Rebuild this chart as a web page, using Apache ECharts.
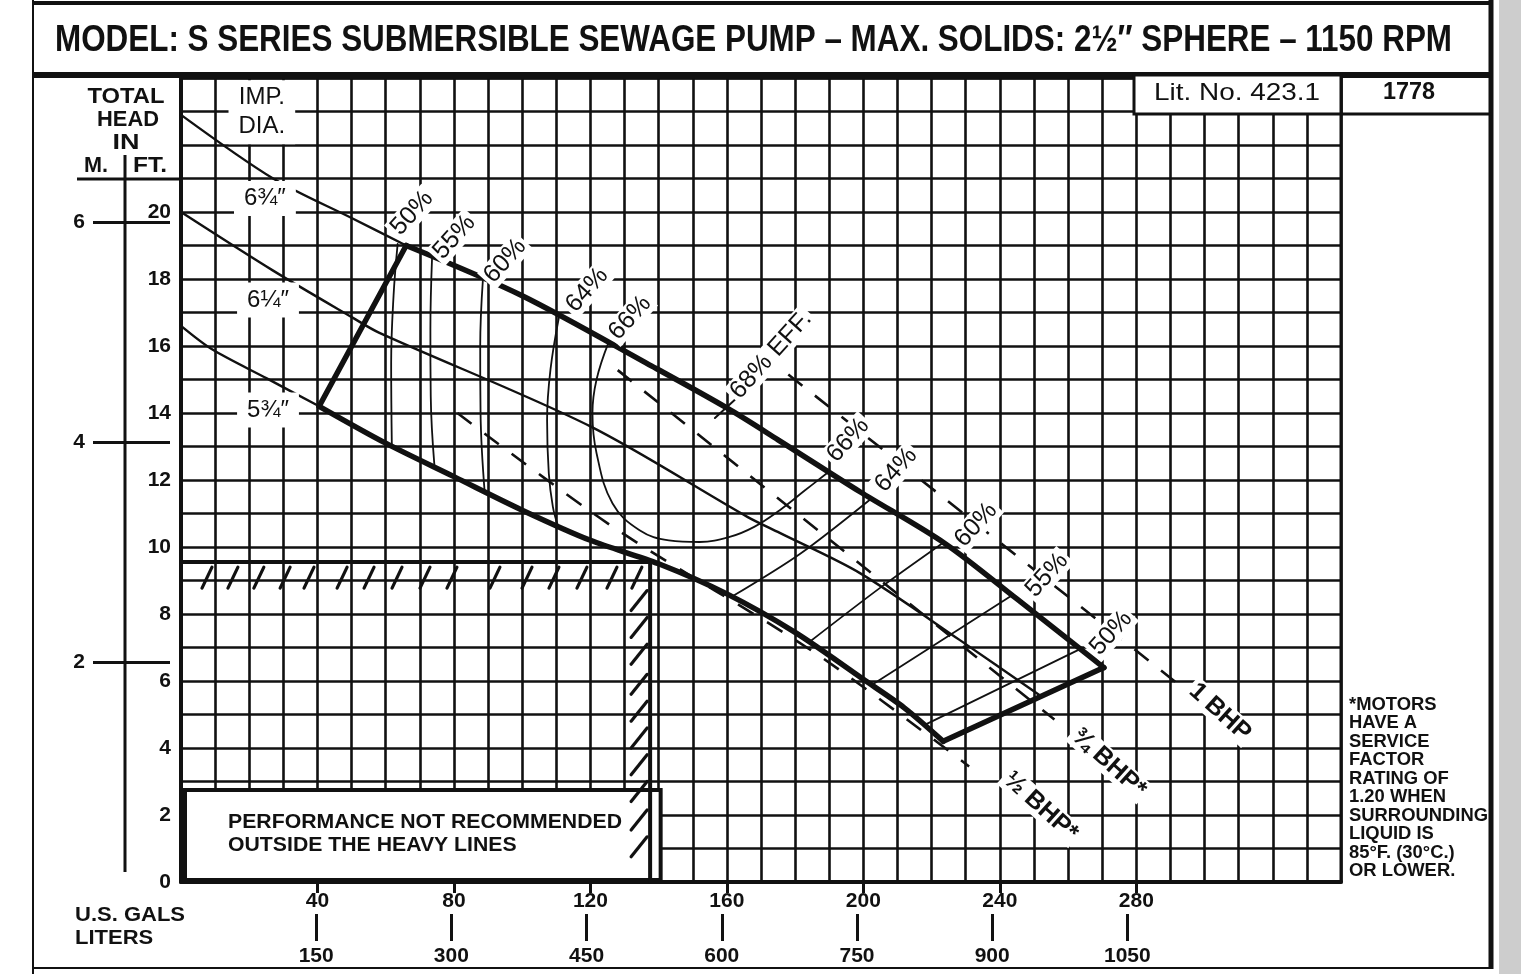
<!DOCTYPE html>
<html><head><meta charset="utf-8">
<script src="https://cdn.jsdelivr.net/npm/echarts@6/dist/echarts.min.js"></script>
<style>html,body{margin:0;padding:0;background:#fff}#c{width:1521px;height:974px}</style>
</head><body><div id="c"></div><script>
// ---------- data (US GPM, feet) ----------
const xTicksGPM = [40, 80, 120, 160, 200, 240, 280];
const xTicksLiters = [150, 300, 450, 600, 750, 900, 1050];
const yTicksFt = [0, 2, 4, 6, 8, 10, 12, 14, 16, 18, 20];
const yTicksM = [2, 4, 6];

const imp675 = [[0,22.9],[27,21.0],[50,19.82],[66,19.0],[100,17.5],[138,15.4],[160,14.15],[175,13.2],[199,11.65],[224,10.1],[245,8.45],[270.5,6.4]];
const imp625 = [[0,20.0],[27,18.25],[50.4,16.84],[58,16.4],[120,13.6],[166,10.9],[175.5,10.42],[199,9.22],[228.3,7.22],[252,5.55]];
const imp575 = [[0,16.6],[9.1,15.9],[25,15.04],[40.5,14.2],[60,13.1],[80,12.1],[100,11.1],[120,10.2],[140,9.5],[160,8.6],[180,7.45],[200,6.05],[212,5.2],[223.4,4.2]];
const heavyFrom675 = 66;
const heavyFrom575 = 40.5;
const leftEnd = [[40.5,14.2],[66,19.0]];
const rightEnd = [[223.4,4.2],[270.5,6.4]];

const eff50L = [[63.5,19.05],[62.3,17.5],[61.6,15.5],[61.8,13.0]];
const eff55L = [[73.6,18.67],[73.1,16.5],[73.2,14.5],[74.3,12.4]];
const eff60L = [[88.5,18.0],[87.7,16.0],[87.8,14.0],[89.0,11.65]];
const eff64L = [[110.8,16.87],[108.3,15.3],[107.3,13.8],[107.8,12.2],[109,11.2],[110.5,10.63]];
const eff66 = [[125.3,16.1],[121.8,15.0],[120.6,14.0],[121.8,12.8],[126.5,11.3],[134.4,10.5],[143,10.2],[152,10.15],[160.8,10.3],[168,10.6],[175.5,11.1],[183,11.7],[189.3,12.2]];
const eff64R = [[161.5,8.52],[181.5,9.8],[202,11.42]];
const eff60R = [[184,7.15],[204.9,8.78],[223.3,10.12]];
const eff55R = [[202.8,5.9],[243.5,8.55]];
const eff50R = [[218.6,4.72],[263.5,6.95]];
const eff68Mark = [[156.5,13.85],[164.5,14.6]];

const bhp1 = [[178,15.15],[293,5.85]];
const bhp34 = [[128,15.28],[256,4.85]];
const bhp12 = [[81,14.0],[126.6,10.6],[186.4,6.8],[231,3.45]];

const hatchHead = 9.55;
const hatchFlow = 137.5;
const hatchTicksX = [8.5,16.1,23.7,31.4,38.4,48.1,56,64.2,72.4,80.3,92.9,102.3,110.2,118.4,127.2,134.5];
const hatchTicksY = [8.4,7.6,6.8,5.9,5.1,4.3,3.5,2.7,1.85,1.05];
const noteBox = [[0,0],[140,2.75]];

const effLabelText = ['50%','55%','60%','64%','66%','68% EFF.','66%','64%','60%','55%','50%'];
const effLabelPos = [[67.7,19.97],[80.1,19.25],[95.0,18.54],[119.0,17.67],[131.6,16.84],[172.9,15.73],[195.5,13.19],[209.6,12.3],[233,10.66],[253.8,9.16],[272.6,7.43]];
const bhpLabelText = ['1 BHP','¾ BHP*','½ BHP*'];
const bhpLabelPos = [[304.5,5.07],[272,3.55],[252,2.25]];
const impLabelText = ['IMP.\nDIA.','6¾″','6¼″','5¾″'];
const impLabelPos = [[23.7,22.98],[24.6,20.4],[25.5,17.37],[25.5,14.09]];

const titleText = 'MODEL: S SERIES SUBMERSIBLE SEWAGE PUMP – MAX. SOLIDS: 2½″ SPHERE – 1150 RPM';
const noteLines = ['*MOTORS','HAVE A','SERVICE','FACTOR','RATING OF','1.20 WHEN','SURROUNDING','LIQUID IS','85°F. (30°C.)','OR LOWER.'];
const LPG = 3.785411784, FT2M = 0.3048;

// ---------- drawing ----------
const FONT = '"Liberation Sans", Arial, Helvetica, "DejaVu Sans", sans-serif';
const BLACK = '#111';
const chart = echarts.init(document.getElementById('c'), null, {renderer:'canvas'});

function line(data, width, extra) {
  return Object.assign({type:'line', data, xAxisIndex:0, yAxisIndex:0, symbol:'none', silent:true,
    animation:false, lineStyle:{color:BLACK, width, cap:'round', join:'round'}, z:3}, extra || {});
}
const lo = (arr, x0) => arr.filter(p => p[0] <= x0);
const hi = (arr, x0) => arr.filter(p => p[0] >= x0);
const lbl = { fontFamily: FONT, color: BLACK };

const mctx = document.createElement('canvas').getContext('2d');
function txt(text, x, y, size, weight, width, align, sxFixed) {
  const font = weight + ' ' + size + 'px ' + FONT;
  mctx.font = font;
  const sx = sxFixed || (width ? width / mctx.measureText(text).width : 1);
  return {type:'text', x, y, scaleX:sx, z:100, silent:true,
    style:{text, font, fill:BLACK, align: align || 'left', verticalAlign:'middle'}};
}
function scaleFor(text, size, weight, width) {
  mctx.font = weight + ' ' + size + 'px ' + FONT;
  return width / mctx.measureText(text).width;
}
function gl(x1, y1, x2, y2, w) {
  return {type:'line', z:90, silent:true, shape:{x1,y1,x2,y2}, style:{stroke:BLACK, lineWidth:w}};
}
function labelSeries(texts, pos, labelOpt) {
  return {type:'scatter', xAxisIndex:0, yAxisIndex:0, z:8, silent:true, animation:false, symbolSize:1,
    itemStyle:{color:'rgba(0,0,0,0)', opacity:1},
    emphasis:{disabled:true},
    data: texts.map((t, i) => ({value: pos[i], label:{formatter:t}})),
    label:Object.assign({show:true, position:'inside', backgroundColor:'#fff', opacity:1}, lbl, labelOpt)};
}

const series = [
  // not-recommended box
  {type:'custom', xAxisIndex:0, yAxisIndex:0, z:2, silent:true, animation:false,
   data:[[noteBox[0][0], noteBox[0][1], noteBox[1][0], noteBox[1][1]]],
   renderItem(params, api) {
     const a = api.coord([api.value(0), api.value(1)]);
     const b = api.coord([api.value(2), api.value(3)]);
     return {type:'rect', shape:{x:a[0] + 4, y:b[1], width:b[0] - a[0] - 2, height:a[1] - b[1] - 2},
       style:{fill:'#fff', stroke:BLACK, lineWidth:4}};
   }},
  // impeller curves (thin parts)
  line(lo(imp675, heavyFrom675), 2.4, {smooth:0.3}),
  line(imp625, 2.4, {smooth:0.3}),
  line(lo(imp575, heavyFrom575), 2.4, {smooth:0.3}),
  // heavy operating boundary
  line(hi(imp675, heavyFrom675), 5.5, {smooth:0.3, z:5}),
  line(hi(imp575, heavyFrom575), 5.5, {smooth:0.3, z:5}),
  line(leftEnd, 5.5, {z:5}),
  line(rightEnd, 5.5, {z:5}),
  // efficiency curves
  line(eff50L, 1.8, {smooth:0.4}),
  line(eff55L, 1.8, {smooth:0.4}),
  line(eff60L, 1.8, {smooth:0.4}),
  line(eff64L, 1.8, {smooth:0.4}),
  line(eff66, 1.8, {smooth:0.4}),
  line(eff64R, 1.8, {smooth:0.3}),
  line(eff60R, 1.8, {smooth:0.3}),
  line(eff55R, 1.8),
  line(eff50R, 1.8),
  line(eff68Mark, 2),
  // brake horsepower lines
  line(bhp1, 2.6, {lineStyle:{color:BLACK, width:2.6, type:[18,16]}}),
  line(bhp34, 2.6, {lineStyle:{color:BLACK, width:2.6, type:[18,16]}}),
  line(bhp12, 2.6, {smooth:0.3, lineStyle:{color:BLACK, width:2.6, type:[18,16]}}),
  // hatched limit
  line([[0, hatchHead],[hatchFlow, hatchHead],[hatchFlow, 0]], 4, {z:6}),
  {type:'custom', xAxisIndex:0, yAxisIndex:0, z:6, silent:true, animation:false,
   data: hatchTicksX.map(x => [x, hatchHead]),
   renderItem(params, api) {
     const p = api.coord([api.value(0), api.value(1)]);
     return {type:'line', shape:{x1:p[0] + 2, y1:p[1] + 5, x2:p[0] - 8, y2:p[1] + 26},
       style:{stroke:BLACK, lineWidth:3.2, lineCap:'round'}};
   }},
  {type:'custom', xAxisIndex:0, yAxisIndex:0, z:6, silent:true, animation:false,
   data: hatchTicksY.map(y => [hatchFlow, y]),
   renderItem(params, api) {
     const p = api.coord([api.value(0), api.value(1)]);
     return {type:'line', shape:{x1:p[0] - 3, y1:p[1] - 10, x2:p[0] - 19, y2:p[1] + 10},
       style:{stroke:BLACK, lineWidth:3.2, lineCap:'round'}};
   }},
  // labels
  labelSeries(effLabelText, effLabelPos, {rotate:48, fontSize:25, padding:[0,3]}),
  labelSeries(bhpLabelText, bhpLabelPos, {rotate:-42, fontSize:25, fontWeight:'bold', padding:[0,3]}),
  labelSeries(impLabelText, impLabelPos, {fontSize:24, lineHeight:29, padding:[3,10]})
];

const noteScale = scaleFor('SURROUNDING', 18, 'bold', 139);
const boxScale = scaleFor('PERFORMANCE NOT RECOMMENDED', 21, 'bold', 394);
const galScale = scaleFor('U.S. GALS', 21, 'bold', 110);

const graphic = [
  {type:'rect', z:80, silent:true, shape:{x:1499, y:0, width:22, height:974}, style:{fill:'#cdcdcd'}},
  gl(33, 3, 1493, 3, 4),
  gl(33, 0, 33, 974, 2),
  gl(1491, 0, 1491, 969, 5),
  gl(33, 968, 1491, 968, 2),
  gl(33, 75, 1493, 75, 6),
  {type:'rect', z:95, silent:true, shape:{x:1134, y:75, width:207, height:39}, style:{fill:'#fff', stroke:BLACK, lineWidth:3}},
  gl(1341, 114, 1491, 114, 3),
  txt(titleText, 55, 41, 37, 'bold', 1397, 'left'),
  txt('Lit. No. 423.1', 1237, 93, 24, 'normal', 166, 'center'),
  txt('1778', 1409, 92, 24, 'bold', 52, 'center'),
  txt('TOTAL', 126, 97, 22, 'bold', 77, 'center'),
  txt('HEAD', 128, 120, 22, 'bold', 62, 'center'),
  txt('IN', 126, 143, 22, 'bold', 27, 'center'),
  txt('M.', 96, 166, 22, 'bold', 24, 'center'),
  txt('FT.', 150, 166, 22, 'bold', 34, 'center'),
  gl(77, 179, 181, 179, 3),
  gl(125, 155, 125, 872, 3),
  txt('U.S. GALS', 75, 915, 21, 'bold', null, 'left', galScale),
  txt('LITERS', 75, 938, 21, 'bold', null, 'left', galScale),
  txt('PERFORMANCE NOT RECOMMENDED', 228, 822, 21, 'bold', null, 'left', boxScale),
  txt('OUTSIDE THE HEAVY LINES', 228, 845, 21, 'bold', null, 'left', boxScale)
];
noteLines.forEach((t, i) => graphic.push(txt(t, 1349, 705 + i * 18.5, 18, 'bold', null, 'left', noteScale)));

const axisText = Object.assign({fontSize:21, fontWeight:'bold', formatter: v => String(v)}, lbl);
const hiddenAxis = {type:'value', show:false, min:0, max:1};
const option = {
  animation:false,
  backgroundColor:'#fff',
  grid:[
    {left:181, top:78, width:1160, height:804, show:true, borderColor:BLACK, borderWidth:3, backgroundColor:'#fff'},
    {left:181, top:913, width:1160, height:1, show:false},
    {left:93, top:78, width:1, height:804, show:false}
  ],
  xAxis:[
    {gridIndex:0, type:'value', min:0, max:340, interval:10, position:'bottom',
     axisLine:{show:true, onZero:false, lineStyle:{color:BLACK, width:4}},
     axisTick:{show:false}, axisLabel:{show:false},
     splitLine:{show:true, lineStyle:{color:BLACK, width:2.6}}},
    {gridIndex:0, type:'value', min:0, max:340, position:'bottom',
     axisLine:{show:false},
     axisTick:{show:true, customValues:xTicksGPM, length:11, lineStyle:{color:BLACK, width:3}},
     axisLabel:Object.assign({show:true, customValues:xTicksGPM, margin:9}, axisText),
     splitLine:{show:false}},
    {gridIndex:1, type:'value', min:0, max:340 * LPG, position:'bottom',
     axisLine:{show:false},
     axisTick:{show:true, customValues:xTicksLiters, length:27, lineStyle:{color:BLACK, width:3}},
     axisLabel:Object.assign({show:true, customValues:xTicksLiters, margin:32}, axisText),
     splitLine:{show:false}},
    Object.assign({gridIndex:2}, hiddenAxis)
  ],
  yAxis:[
    {gridIndex:0, type:'value', min:0, max:24, interval:1, position:'left',
     axisLine:{show:true, onZero:false, lineStyle:{color:BLACK, width:4}},
     axisTick:{show:false}, axisLabel:{show:false},
     splitLine:{show:true, lineStyle:{color:BLACK, width:2.6}}},
    {gridIndex:0, type:'value', min:0, max:24, position:'left',
     axisLine:{show:false}, axisTick:{show:false},
     axisLabel:Object.assign({show:true, customValues:yTicksFt, margin:10}, axisText),
     splitLine:{show:false}},
    Object.assign({gridIndex:1}, hiddenAxis),
    {gridIndex:2, type:'value', min:0, max:24 * FT2M, position:'right',
     axisLine:{show:false},
     axisTick:{show:true, customValues:yTicksM, length:77, lineStyle:{color:BLACK, width:3}},
     axisLabel:{show:false}, splitLine:{show:false}},
    {gridIndex:2, type:'value', min:0, max:24 * FT2M, position:'left',
     axisLine:{show:false}, axisTick:{show:false},
     axisLabel:Object.assign({show:true, customValues:yTicksM, margin:8}, axisText),
     splitLine:{show:false}}
  ],
  series,
  graphic
};
chart.setOption(option);
</script></body></html>
